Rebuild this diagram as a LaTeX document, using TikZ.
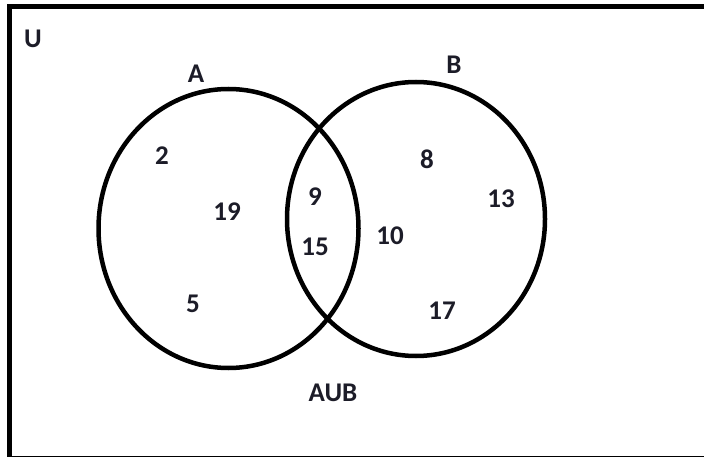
\documentclass[tikz,border=0pt]{standalone}
\usepackage{fontspec}
\setmainfont{Carlito}
\definecolor{txt}{HTML}{1C1C28}
\begin{document}
\begin{tikzpicture}[x=1pt,y=-1pt,
  lbl/.style={text=txt,font=\fontsize{27}{32}\selectfont\bfseries,inner sep=0pt},
  setline/.style={line width=4.5pt,black},
  frame/.style={line width=5pt,black}]
\useasboundingbox (0,0) rectangle (704,457);
\clip (0,0) rectangle (704,457);
\fill[white] (0,0) rectangle (704,457);
\draw[frame] (9,7) rectangle (712,458.5);
\draw[setline] (228.5,228.5) ellipse [x radius=130, y radius=139.5];
\draw[setline] (416,219) ellipse [x radius=129, y radius=137];
\node[lbl] (U) at (33,39) {U};
\node[lbl] (A) at (196,74) {A};
\node[lbl] (B) at (454,65) {B};
\node[lbl] (n2) at (162,156) {2};
\node[lbl] (n19) at (227,212) {19};
\node[lbl] (n5) at (193,304) {5};
\node[lbl] (n9) at (315,197) {9};
\node[lbl] (n15) at (315,247) {15};
\node[lbl] (n8) at (427,159) {8};
\node[lbl] (n13) at (501,199) {13};
\node[lbl] (n10) at (390,236) {10};
\node[lbl] (n17) at (442,311) {17};
\node[lbl] (AUB) at (333,393) {AUB};
\end{tikzpicture}
\end{document}
